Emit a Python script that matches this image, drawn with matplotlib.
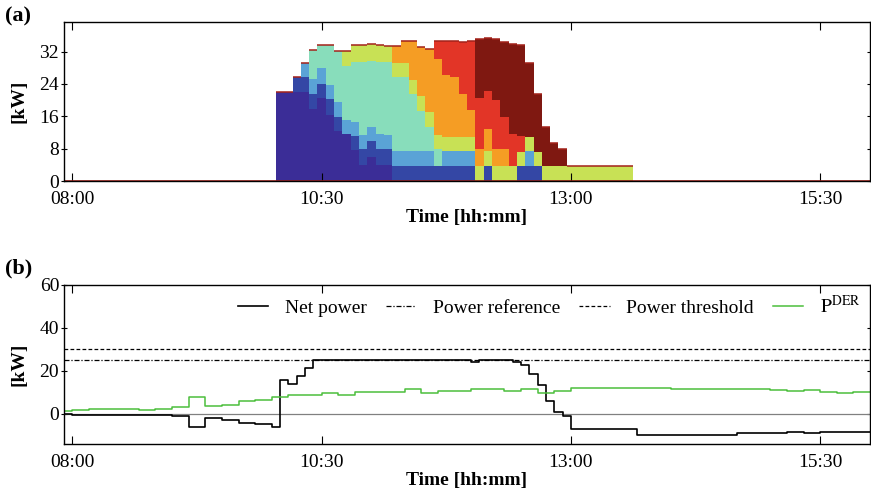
import numpy as np
import matplotlib
matplotlib.use("Agg")
import matplotlib.pyplot as plt

plt.rcParams['font.family'] = ['Liberation Serif', 'DejaVu Serif']
plt.rcParams['mathtext.fontset'] = 'stix'
plt.rcParams['font.size'] = 14


def hours(s):
    h, m = s.split(":")
    return int(h) + int(m) / 60.0


# ---- panel (a): EV charging power, 5 min columns ----
first_col = "10:05"
n_cols = 43
ev_colors = ['#3b2d97', '#3447a5', '#5aa3d6', '#88ddbb',
             '#c8e155', '#f59d24', '#e23527', '#7f1811']
ev_start = ["10:05", "10:15", "10:20", "10:25", "10:45", "11:15", "11:40", "12:05"]
ev1 = [22.0, 22.0, 22.0, 22.0, 17.8, 20.4, 16.3, 12.4, 11.5, 7.6, 3.9, 6.0, 3.9, 3.9]
ev2 = [3.6, 3.6, 3.6, 3.6, 3.9, 3.5, 0.0, 3.6, 4.0, 3.8, 4.0, 4.0, 3.7, 3.7, 3.7,
       3.7, 3.7, 3.7, 3.7, 3.7, 3.7, 3.7, 0.0, 3.7, 0.0, 0.0, 0.0, 3.7, 3.7, 3.7]
ev3 = [3.6, 3.7, 3.9, 3.5, 3.7, 3.7, 3.3, 3.4, 3.6, 3.6, 3.4, 3.7, 3.7, 3.7, 3.7,
       3.7, 0.0, 3.7, 3.7, 3.7, 3.7, 0.0, 0.0, 0.0, 0.0, 0.0, 0.0, 3.7]
ev4 = [7.3, 5.6, 9.8, 12.6, 13.3, 15.0, 18.2, 16.3, 18.0, 18.1, 18.2, 18.2, 14.0,
       9.9, 6.0, 4.2]
ev5 = [3.7, 4.0, 4.0, 4.1, 4.0, 3.9, 3.5, 3.5, 3.6, 3.8, 3.6, 3.4, 3.5, 3.5, 3.5,
       3.5, 3.7, 3.7, 3.7, 3.7, 3.7, 3.5, 3.5, 3.5, 3.7, 3.7, 3.7, 3.7, 3.7, 3.7,
       3.7, 3.7, 3.7, 3.7, 3.7]
ev6 = [4.2, 5.6, 9.7, 12.0, 15.7, 18.9, 15.3, 14.7, 10.5, 6.6, 4.2, 5.4, 4.2, 4.2]
ev7 = [4.3, 8.3, 8.9, 12.9, 17.2, 12.5, 9.5, 12.1, 7.8, 8.0, 4.0]
ev8 = [14.8, 13.0, 15.2, 18.6, 22.2, 22.5, 18.2, 14.2, 9.7, 5.7, 4.3]
ev_profiles = [ev1, ev2, ev3, ev4, ev5, ev6, ev7, ev8]

# ---- panel (b): step change points ----
net_times = ["07:55", "08:00", "08:40", "08:50", "09:00", "09:10", "09:20", "09:30",
             "09:40", "09:50", "10:00", "10:05", "10:10", "10:15", "10:20", "10:25",
             "12:00", "12:05", "12:25", "12:30", "12:35", "12:40", "12:45", "12:50",
             "12:55", "13:00", "13:40", "14:40", "15:10", "15:20", "15:30"]
net_kw = [0.0, -0.6, -0.3, -0.6, -1.1, -6.2, -2.0, -2.9,
          -4.2, -4.6, -6.2, 15.6, 14.1, 17.6, 21.5, 25.0,
          24.3, 25.0, 24.2, 22.8, 18.6, 13.5, 5.8, 0.7,
          -1.1, -6.8, -9.6, -9.1, -8.6, -8.9, -8.2]
der_times = ["07:55", "08:00", "08:10", "08:25", "08:40", "08:50", "09:00", "09:10",
             "09:20", "09:30", "09:40", "09:50", "10:00", "10:10", "10:30", "10:40",
             "10:50", "11:00", "11:20", "11:30", "11:40", "12:00", "12:20", "12:30",
             "12:40", "12:50", "13:00", "13:20", "14:00", "15:00", "15:10", "15:20",
             "15:30", "15:40", "15:50"]
der_kw = [1.5, 1.8, 2.1, 2.3, 2.0, 2.4, 3.2, 8.1,
          3.8, 4.3, 5.8, 6.3, 7.7, 8.6, 9.7, 8.9,
          10.0, 10.3, 11.7, 9.7, 10.8, 11.8, 10.7, 11.7,
          9.7, 10.5, 12.2, 12.0, 11.5, 11.2, 10.5, 11.1,
          10.3, 9.8, 10.1]
power_reference = 25
power_threshold = 30

tick_labels = ["08:00", "10:30", "13:00", "15:30"]
t_min, t_max = hours("07:55"), hours("16:00")
step = 5 / 60.0

fig = plt.figure(figsize=(8.71, 4.90), dpi=100)
ax1 = fig.add_axes([0.0735, 0.6306, 0.9254, 0.3245])
ax2 = fig.add_axes([0.0735, 0.0939, 0.9254, 0.3245])

# stacked columns
power = np.zeros((len(ev_profiles), n_cols))
c0 = hours(first_col)
for i, (start, prof) in enumerate(zip(ev_start, ev_profiles)):
    k = int(round((hours(start) - c0) / step))
    power[i, k:k + len(prof)] = prof
centers = c0 + step * np.arange(n_cols)
edges = np.append(centers - step / 2, centers[-1] + step / 2)

bottom = np.zeros(n_cols)
for i in range(len(ev_profiles)):
    top = bottom + power[i]
    ax1.stairs(top, edges, baseline=bottom, fill=True, color=ev_colors[i], lw=0)
    bottom = top
ax1.hlines(bottom, edges[:-1], edges[1:], color='#a3221a', lw=1.1)
ax1.plot([t_min, t_max], [0, 0], color='#a3221a', lw=1.2)

ax1.set_xlim(t_min, t_max)
ax1.set_ylim(0, 39.3)
ax1.set_yticks([0, 8, 16, 24, 32])
ax1.set_ylabel("[kW]", fontweight='bold', labelpad=9)
ax1.set_xlabel("Time [hh:mm]", fontweight='bold', labelpad=1)
fig.text(0.006, 0.966, "(a)", fontweight='bold', fontsize=16, ha='left', va='center')

# net power and references
ax2.axhline(0, color='#808080', lw=0.9)
t_net = [hours(t) for t in net_times] + [t_max]
ax2.plot(t_net, net_kw + [net_kw[-1]], drawstyle='steps-post', color='black', lw=1.2,
         label="Net power")
ax2.axhline(power_reference, color='black', lw=0.9, ls=(0, (4, 1.5, 1, 1.5)),
            label="Power reference")
ax2.axhline(power_threshold, color='black', lw=0.9, ls=(0, (3, 1.8)),
            label="Power threshold")
t_der = [hours(t) for t in der_times] + [t_max]
ax2.plot(t_der, der_kw + [der_kw[-1]], drawstyle='steps-post', color='#4cbf3c', lw=1.1,
         label=r"$\mathrm{P}^{\mathrm{DER}}$")

ax2.set_xlim(t_min, t_max)
ax2.set_ylim(-14, 60)
ax2.set_yticks([0, 20, 40, 60])
ax2.set_ylabel("[kW]", fontweight='bold', labelpad=9)
ax2.set_xlabel("Time [hh:mm]", fontweight='bold', labelpad=1)
fig.text(0.006, 0.453, "(b)", fontweight='bold', fontsize=16, ha='left', va='center')
ax2.legend(loc='upper right', ncol=4, frameon=False, handlelength=1.55,
           columnspacing=1.0, handletextpad=0.85, borderaxespad=0.1, fontsize=14)

for ax in (ax1, ax2):
    ax.set_xticks([hours(t) for t in tick_labels])
    ax.set_xticklabels(tick_labels)
    ax.tick_params(axis='x', direction='in', length=6, top=True, pad=7)
    ax.tick_params(axis='y', direction='inout', length=5, right=True, pad=1)
    for s in ax.spines.values():
        s.set_linewidth(1.0)

fig.savefig("out.png", dpi=100)
